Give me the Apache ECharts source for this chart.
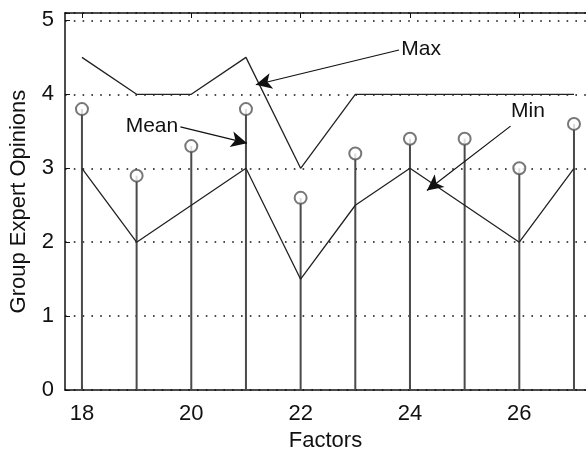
<!DOCTYPE html>
<html>
<head>
<meta charset="utf-8">
<script src="https://cdn.jsdelivr.net/npm/echarts@6/dist/echarts.min.js"></script>
<style>html,body{margin:0;padding:0;background:#fff}#c{width:586px;height:457px}</style>
</head>
<body>
<div id="c"></div>
<script>
// ---- data ----
const factors = [18, 19, 20, 21, 22, 23, 24, 25, 26, 27];
const maxVals = [4.5, 4, 4, 4.5, 3, 4, 4, 4, 4, 4];
const minVals = [3, 2, 2.5, 3, 1.5, 2.5, 3, 2.5, 2, 3];
const meanVals = [3.8, 2.9, 3.3, 3.8, 2.6, 3.2, 3.4, 3.4, 3.0, 3.6];
const xTickLabels = [18, 20, 22, 24, 26];
const yTickLabels = [0, 1, 2, 3, 4, 5];
// annotations: [label, textX, textY, arrowFromX, arrowFromY, arrowToX, arrowToY]
const annotations = [
  ['Max', 23.84, 4.61, 23.8, 4.6, 21.18, 4.13],
  ['Mean', 18.8, 3.57, 19.8, 3.56, 21.02, 3.34],
  ['Min', 25.85, 3.77, 25.84, 3.57, 24.31, 2.70]
];

const FONT = '"Liberation Sans", Arial, sans-serif';
const FS = 22;
const FS_ANN = 21;
const xMin = 17.69, xMax = 27.22;

const pair = (vals) => factors.map((f, i) => [f, vals[i]]);

const chart = echarts.init(document.getElementById('c'), null, {renderer: 'canvas'});
chart.setOption({
  backgroundColor: '#ffffff',
  animation: false,
  grid: {left: 64, top: 13, right: -2, bottom: 61.5, containLabel: false},
  xAxis: [{
    type: 'value', min: xMin, max: xMax, position: 'bottom',
    name: 'Factors', nameLocation: 'middle', nameGap: 39,
    nameTextStyle: {fontFamily: FONT, fontSize: FS, color: '#111'},
    axisLine: {show: true, onZero: false, lineStyle: {color: '#111', width: 1.5}},
    axisTick: {show: true, inside: true, length: 5, customValues: xTickLabels, lineStyle: {color: '#111'}},
    axisLabel: {customValues: xTickLabels, fontFamily: FONT, fontSize: FS, color: '#111', margin: 13},
    splitLine: {show: false}
  }, {
    type: 'value', min: xMin, max: xMax, position: 'top',
    axisLine: {show: true, onZero: false, lineStyle: {color: '#111', width: 1.5}},
    axisTick: {show: true, inside: true, length: 5, customValues: xTickLabels, lineStyle: {color: '#111'}},
    axisLabel: {show: false},
    splitLine: {show: false}
  }],
  yAxis: [{
    type: 'value', min: 0, max: 5.1, interval: 1,
    name: 'Group Expert Opinions', nameLocation: 'middle', nameGap: 35,
    nameTextStyle: {fontFamily: FONT, fontSize: FS, color: '#111'},
    axisLine: {show: true, lineStyle: {color: '#111', width: 1.5}},
    axisTick: {show: true, inside: true, length: 5, lineStyle: {color: '#111'}},
    axisLabel: {customValues: yTickLabels, fontFamily: FONT, fontSize: FS, color: '#111', margin: 11},
    splitLine: {show: true, lineStyle: {color: '#111', width: 1.6, type: [1.6, 7.2]}}
  }],
  series: [{
    name: 'stems', type: 'bar', data: pair(meanVals), barWidth: 2,
    itemStyle: {color: '#4a4a4a'}, z: 2
  }, {
    name: 'Mean', type: 'scatter', data: pair(meanVals), symbol: 'emptyCircle', symbolSize: 12,
    itemStyle: {color: '#555', borderColor: '#555', borderWidth: 1.6}, z: 3
  }, {
    name: 'Max', type: 'line', data: pair(maxVals), symbol: 'none',
    lineStyle: {color: '#222', width: 1.3}, z: 4
  }, {
    name: 'Min', type: 'line', data: pair(minVals), symbol: 'none',
    lineStyle: {color: '#222', width: 1.3}, z: 4,
    markLine: {
      silent: true, symbol: ['none', 'arrow'], symbolSize: [12, 16],
      lineStyle: {color: '#111', width: 1.2, type: 'solid'},
      label: {show: false},
      data: annotations.map(a => [{coord: [a[3], a[4]]}, {coord: [a[5], a[6]]}])
    },
    markPoint: {
      silent: true, symbol: 'circle', symbolSize: 0,
      label: {show: true, position: 'right', distance: 0, fontFamily: FONT, fontSize: FS_ANN, color: '#111',
              formatter: p => p.name},
      data: annotations.map(a => ({name: a[0], coord: [a[1], a[2]]}))
    }
  }]
});
</script>
</body>
</html>
